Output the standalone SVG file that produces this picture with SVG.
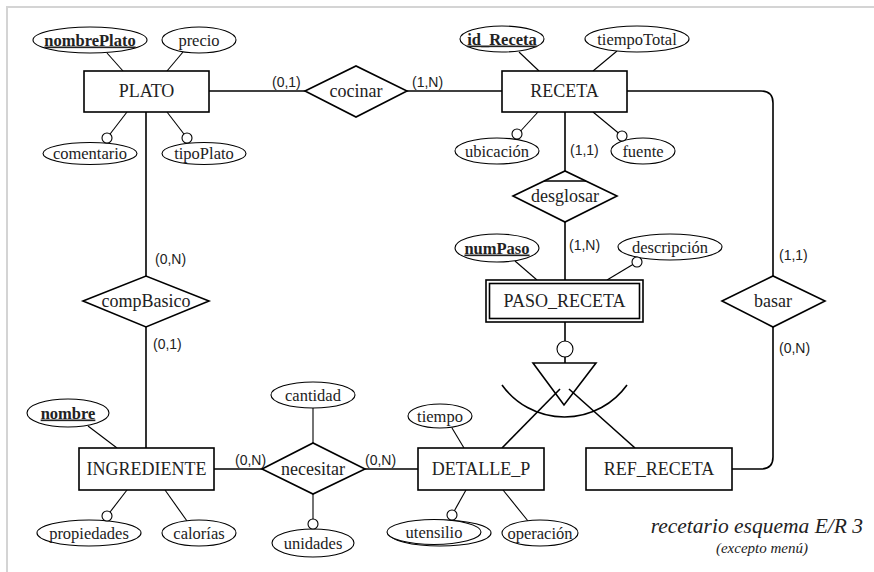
<svg xmlns="http://www.w3.org/2000/svg" width="874" height="572" viewBox="0 0 874 572">
<style>
.box{fill:#fff;stroke:#000;stroke-width:1.6}
.att{fill:#fff;stroke:#000;stroke-width:1.1}
.al{stroke:#000;stroke-width:1.1;fill:none}
.ml{stroke:#000;stroke-width:1.6;fill:none}
.t{font-family:"Liberation Serif","Times New Roman",serif;fill:#222;text-anchor:middle}
.te{font-size:18px}
.ta{font-size:16.5px}
.k{font-weight:bold;text-decoration:underline}
.c{font-family:"Liberation Sans",Arial,sans-serif;font-size:14px;fill:#222}
.cap{font-family:"Liberation Serif","Times New Roman",serif;font-style:italic;fill:#222;text-anchor:end}
</style>
<rect width="874" height="572" fill="#fff"/>
<path d="M7,572 V7 H874" fill="none" stroke="#d4d4d4" stroke-width="2"/>

<g id="connectors">
  <path class="ml" d="M209,91 H305"/>
  <path class="ml" d="M407,91 H502"/>
  <path class="ml" d="M146,112 V276"/>
  <path class="ml" d="M146,327 V448"/>
  <path class="ml" d="M565,112 V171"/>
  <path class="ml" d="M565,222 V280"/>
  <path class="ml" d="M627,91 H761 Q773,91 773,103 V276"/>
  <path class="ml" d="M773,327 V457 Q773,469 761,469 H732"/>
  <path class="ml" d="M214,469 H262"/>
  <path class="ml" d="M365,469 H418"/>
  <path class="ml" d="M565,322 V363"/>
  <path class="ml" d="M560,389 L502,448"/>
  <path class="ml" d="M569,389 L635,448"/>
  <path class="ml" d="M502,385 A77,77 0 0 0 627,385"/>
  <circle class="att" cx="565" cy="349" r="8"/>
  <path class="al" d="M107,53 L123,71"/>
  <path class="al" d="M183,52 L167,71"/>
  <path class="al" d="M127,112 L107,138"/>
  <path class="al" d="M167,112 L187,138"/>
  <path class="al" d="M519,52 L539,71"/>
  <path class="al" d="M617,51 L593,71"/>
  <path class="al" d="M538,112 L517,135"/>
  <path class="al" d="M593,112 L622,136"/>
  <path class="al" d="M515,261 L537,280"/>
  <path class="al" d="M637,262 L607,280"/>
  <path class="al" d="M88,426 L117,448"/>
  <path class="al" d="M127,490 L107,516"/>
  <path class="al" d="M165,490 L187,521"/>
  <path class="al" d="M313,408 V443"/>
  <path class="al" d="M313,494 V524"/>
  <path class="al" d="M452,428 L464,448"/>
  <path class="al" d="M466,490 L452,515"/>
  <path class="al" d="M503,490 L528,521"/>
  <text class="c" x="272" y="87">(0,1)</text>
  <text class="c" x="412" y="87">(1,N)</text>
  <text class="c" x="155" y="264">(0,N)</text>
  <text class="c" x="153" y="349">(0,1)</text>
  <text class="c" x="570" y="155">(1,1)</text>
  <text class="c" x="569" y="250">(1,N)</text>
  <text class="c" x="779" y="260">(1,1)</text>
  <text class="c" x="779" y="353">(0,N)</text>
  <text class="c" x="235" y="465">(0,N)</text>
  <text class="c" x="365" y="465">(0,N)</text>
</g>

<g id="spec">
  <path class="ml" d="M533,363 H596 L564,405 Z"/>
</g>

<g id="PLATO">
  <rect class="box" x="84" y="71" width="125" height="41"/>
  <text class="t te" x="146.5" y="97">PLATO</text>
</g>
<g id="nombrePlato">
  <ellipse class="att" cx="90" cy="40" rx="57" ry="13"/>
  <text class="t ta k" x="90" y="45.5">nombrePlato</text>
</g>
<g id="precio">
  <ellipse class="att" cx="199" cy="40" rx="37" ry="13"/>
  <text class="t ta" x="199" y="45.5">precio</text>
</g>
<g id="comentario">
  <ellipse class="att" cx="90" cy="153.5" rx="47" ry="11"/>
  <circle class="att" cx="107" cy="138" r="5"/>
  <text class="t ta" x="90" y="159">comentario</text>
</g>
<g id="tipoPlato">
  <ellipse class="att" cx="204" cy="153.5" rx="42" ry="11"/>
  <circle class="att" cx="187" cy="138" r="5"/>
  <text class="t ta" x="204" y="159">tipoPlato</text>
</g>

<g id="cocinar">
  <polygon class="box" points="305,91 356,66 407,91 356,117"/>
  <text class="t te" x="356" y="97">cocinar</text>
</g>

<g id="RECETA">
  <rect class="box" x="502" y="71" width="125" height="41"/>
  <text class="t te" x="564.5" y="97">RECETA</text>
</g>
<g id="id_Receta">
  <ellipse class="att" cx="502" cy="39" rx="42" ry="13"/>
  <text class="t ta k" x="502" y="44.5">id_Receta</text>
</g>
<g id="tiempoTotal">
  <ellipse class="att" cx="637" cy="39" rx="52" ry="13"/>
  <text class="t ta" x="637" y="44.5">tiempoTotal</text>
</g>
<g id="ubicacion">
  <ellipse class="att" cx="497" cy="151" rx="42" ry="13"/>
  <circle class="att" cx="517" cy="134" r="5"/>
  <text class="t ta" x="497" y="156.5">ubicación</text>
</g>
<g id="fuente">
  <ellipse class="att" cx="643" cy="151" rx="32" ry="13"/>
  <circle class="att" cx="622" cy="136" r="5"/>
  <text class="t ta" x="643" y="156.5">fuente</text>
</g>

<g id="desglosar">
  <polygon class="box" points="513,196 565,171 617,196 565,222"/>
  <path class="ml" d="M544,181 H586"/>
  <text class="t te" x="565" y="202">desglosar</text>
</g>

<g id="PASO_RECETA">
  <rect class="box" x="486" y="280" width="157" height="42"/>
  <rect class="box" x="489.5" y="283.5" width="150" height="35" fill="none"/>
  <text class="t te" x="564.5" y="307">PASO_RECETA</text>
</g>
<g id="numPaso">
  <ellipse class="att" cx="497" cy="248" rx="42" ry="14"/>
  <text class="t ta k" x="497" y="253.5">numPaso</text>
</g>
<g id="descripcion">
  <ellipse class="att" cx="670" cy="247" rx="52" ry="13"/>
  <circle class="att" cx="637" cy="262" r="5"/>
  <text class="t ta" x="670" y="252.5">descripción</text>
</g>

<g id="basar">
  <polygon class="box" points="722,301 773,276 825,301 773,327"/>
  <text class="t te" x="773" y="307">basar</text>
</g>

<g id="compBasico">
  <polygon class="box" points="83,301 146,276 209,301 146,327"/>
  <text class="t te" x="146" y="307">compBasico</text>
</g>

<g id="INGREDIENTE">
  <rect class="box" x="79" y="448" width="135" height="42"/>
  <text class="t te" x="146.5" y="475">INGREDIENTE</text>
</g>
<g id="nombre">
  <ellipse class="att" cx="68" cy="413" rx="41" ry="14"/>
  <text class="t ta k" x="68" y="418.5">nombre</text>
</g>
<g id="propiedades">
  <ellipse class="att" cx="89" cy="533" rx="52" ry="13"/>
  <circle class="att" cx="107" cy="516" r="5"/>
  <text class="t ta" x="89" y="538.5">propiedades</text>
</g>
<g id="calorias">
  <ellipse class="att" cx="199" cy="533" rx="37" ry="13"/>
  <text class="t ta" x="199" y="538.5">calorías</text>
</g>

<g id="necesitar">
  <polygon class="box" points="262,469 313,443 365,469 313,494"/>
  <text class="t te" x="313" y="475">necesitar</text>
</g>
<g id="cantidad">
  <ellipse class="att" cx="313" cy="395" rx="42" ry="13"/>
  <text class="t ta" x="313" y="400.5">cantidad</text>
</g>
<g id="unidades">
  <ellipse class="att" cx="313" cy="543" rx="41" ry="14"/>
  <circle class="att" cx="313" cy="524" r="5"/>
  <text class="t ta" x="313" y="548.5">unidades</text>
</g>

<g id="DETALLE_P">
  <rect class="box" x="418" y="448" width="126" height="42"/>
  <text class="t te" x="481" y="475">DETALLE_P</text>
</g>
<g id="tiempo">
  <ellipse class="att" cx="440" cy="416" rx="32" ry="12"/>
  <text class="t ta" x="440" y="421.5">tiempo</text>
</g>
<g id="utensilio">
  <ellipse class="att" cx="440" cy="533" rx="51" ry="13"/>
  <ellipse class="att" cx="434" cy="532" rx="47" ry="12.5"/>
  <circle class="att" cx="452" cy="515" r="5"/>
  <text class="t ta" x="434" y="537.5">utensilio</text>
</g>
<g id="operacion">
  <ellipse class="att" cx="540" cy="533" rx="38" ry="13"/>
  <text class="t ta" x="540" y="538.5">operación</text>
</g>

<g id="REF_RECETA">
  <rect class="box" x="586" y="448" width="146" height="42"/>
  <text class="t te" x="659" y="475">REF_RECETA</text>
</g>

<g id="caption">
  <text class="cap" x="863" y="533" font-size="21.5">recetario esquema E/R 3</text>
  <text class="cap" x="808" y="553" font-size="15">(excepto menú)</text>
</g>
</svg>
